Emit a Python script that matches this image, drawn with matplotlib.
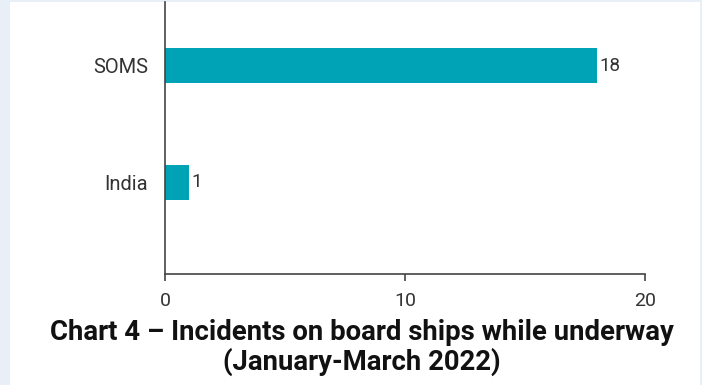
import matplotlib.pyplot as plt
from matplotlib.patches import Rectangle

plt.rcParams['font.family'] = ['Roboto', 'DejaVu Sans']

regions = ['India', 'SOMS']
incidents = [1, 18]
xticks = [0, 10, 20]

bar_color = '#00a3b5'
text_color = '#333333'

fig = plt.figure(figsize=(7.02, 3.85), dpi=100, facecolor='#e8eff6')
# white panel in the middle, light blue edges like the source page
fig.patches.append(Rectangle((10 / 702, 0), 690 / 702, 383 / 385,
                             transform=fig.transFigure, facecolor='white',
                             edgecolor='none', zorder=-10))

ax = fig.add_axes([165 / 702, 1 - 274 / 385, 480 / 702, 272 / 385])
ax.set_facecolor('none')

bars = ax.barh(range(len(regions)), incidents, height=0.3, color=bar_color)
for b, v in zip(bars, incidents):
    ax.text(b.get_width() + 0.12, b.get_y() + b.get_height() / 2, str(v),
            va='center', ha='left', fontsize=13.5, color=text_color)

ax.set_xlim(0, 20)
ax.set_ylim(-0.79, 1.55)
ax.set_xticks(xticks)
ax.set_yticks(range(len(regions)))
ax.set_yticklabels(regions)
ax.tick_params(axis='y', length=0, pad=12, labelsize=14.5, labelcolor=text_color)
ax.tick_params(axis='x', length=5, width=1.2, color='#444444', pad=8,
               labelsize=14, labelcolor=text_color)

for s in ['top', 'right']:
    ax.spines[s].set_visible(False)
for s in ['left', 'bottom']:
    ax.spines[s].set_color('#444444')
    ax.spines[s].set_linewidth(1.2)

fig.text(362 / 702, 1 - 333 / 385, 'Chart 4 – Incidents on board ships while underway',
         ha='center', va='center', fontsize=19.8, fontweight='bold', color='#111111')
fig.text(362 / 702, 1 - 362 / 385, '(January-March 2022)',
         ha='center', va='center', fontsize=19.8, fontweight='bold', color='#111111')

fig.savefig('out.png', dpi=100, facecolor=fig.get_facecolor())
